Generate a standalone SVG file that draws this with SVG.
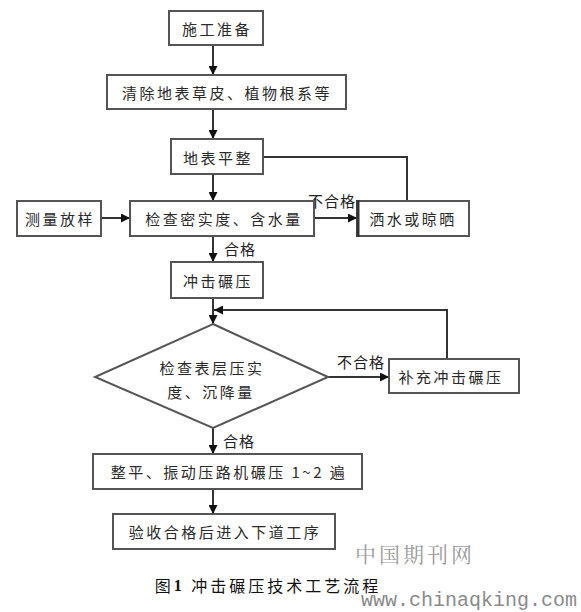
<svg xmlns="http://www.w3.org/2000/svg" width="581" height="612" viewBox="0 0 581 612">
<style>
.box{fill:#fff;stroke:#555;stroke-width:2}
.t{font-family:"Noto Sans CJK SC","Noto Sans",sans-serif;font-size:15px;fill:#2a2a2a;text-anchor:middle;dominant-baseline:central;letter-spacing:2.5px}
.lbl{font-family:"Noto Sans CJK SC","Noto Sans",sans-serif;font-size:15px;fill:#222;text-anchor:middle;dominant-baseline:central;letter-spacing:1px}
.c{fill:none;stroke:#333;stroke-width:2}
</style>
<defs>
<marker id="arr" viewBox="0 0 10 10" refX="10" refY="5" markerWidth="9" markerHeight="9" markerUnits="userSpaceOnUse" orient="auto">
<path d="M0,0 L10,5 L0,10 z" fill="#111"/>
</marker>
</defs>
<rect width="581" height="612" fill="#fff"/>
<g id="connectors">
<path class="c" d="M213,45 V75" marker-end="url(#arr)"/>
<path class="c" d="M213,109 V139" marker-end="url(#arr)"/>
<path class="c" d="M213,174 V201" marker-end="url(#arr)"/>
<path class="c" d="M101,218 H130" marker-end="url(#arr)"/>
<path class="c" d="M314,218 H357" marker-end="url(#arr)"/>
<path class="c" d="M263,157 H407 V201"/>
<path class="c" d="M213,236 V262" marker-end="url(#arr)"/>
<path class="c" d="M213,298 V324" marker-end="url(#arr)"/>
<path class="c" d="M447,359 V310 H214" marker-end="url(#arr)"/>
<path class="c" d="M328,377 H389" marker-end="url(#arr)"/>
<path class="c" d="M213,428 V454" marker-end="url(#arr)"/>
<path class="c" d="M213,489 V514" marker-end="url(#arr)"/>
<text class="lbl" x="332" y="200">不合格</text>
<text class="lbl" x="240" y="248">合格</text>
<text class="lbl" x="361" y="361">不合格</text>
<text class="lbl" x="239" y="440">合格</text>
</g>
<g id="n1"><rect class="box" x="169" y="11" width="94" height="34"/><text class="t" x="217" y="28">施工准备</text></g>
<g id="n2"><rect class="box" x="107" y="75" width="239" height="34"/><text class="t" x="227" y="92">清除地表草皮、植物根系等</text></g>
<g id="n3"><rect class="box" x="171" y="139" width="92" height="35"/><text class="t" x="218" y="157">地表平整</text></g>
<g id="n4"><rect class="box" x="17" y="201" width="84" height="35"/><text class="t" x="60" y="218">测量放样</text></g>
<g id="n5"><rect class="box" x="130" y="201" width="184" height="35"/><text class="t" x="224" y="218">检查密实度、含水量</text></g>
<g id="n6"><rect class="box" x="357" y="201" width="112" height="35"/><line x1="358" y1="200" x2="358" y2="237" stroke="#333" stroke-width="3"/><text class="t" x="413" y="218">洒水或晾晒</text></g>
<g id="n7"><rect class="box" x="171" y="262" width="92" height="36"/><text class="t" x="218" y="280">冲击碾压</text></g>
<g id="n8"><polygon class="box" points="213,324 328,377 213,428 95,377"/><text class="t" x="212" y="367">检查表层压实</text><text class="t" x="211" y="391">度、沉降量</text></g>
<g id="n9"><rect class="box" x="389" y="359" width="130" height="34"/><text class="t" x="451" y="376">补充冲击碾压</text></g>
<g id="n10"><rect class="box" x="93" y="454" width="269" height="35"/><text class="t" x="229" y="471">整平、振动压路机碾压 1~2 遍</text></g>
<g id="n11"><rect class="box" x="113" y="514" width="222" height="35"/><text class="t" x="225" y="531">验收合格后进入下道工序</text></g>
<text x="415" y="553" font-family="Noto Serif CJK SC,Noto Sans CJK SC,serif" font-size="21" fill="#9a9a9a" text-anchor="middle" dominant-baseline="central" letter-spacing="3">中国期刊网</text>
<text x="268" y="585" font-family="Noto Sans CJK SC,sans-serif" font-size="16" fill="#111" text-anchor="middle" dominant-baseline="central" letter-spacing="3">图<tspan font-weight="bold" font-family="Liberation Serif,serif">1</tspan> 冲击碾压技术工艺流程</text>
<text x="577" y="600" font-family="Liberation Mono,monospace" font-size="20" fill="#8a8a8a" text-anchor="end" dominant-baseline="central">www.chinaqking.com</text>
</svg>
